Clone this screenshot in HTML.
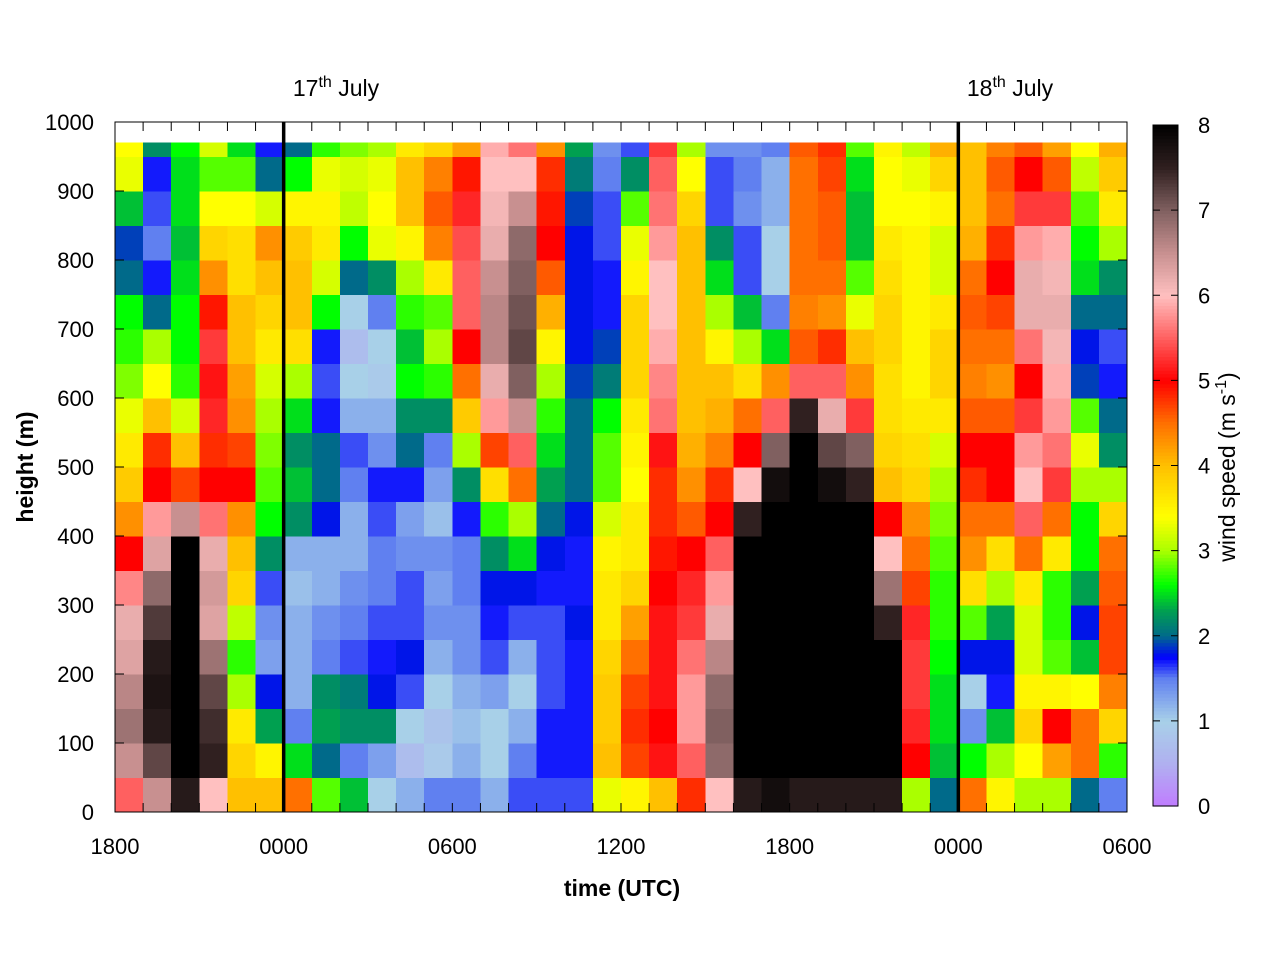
<!DOCTYPE html>
<html><head><meta charset="utf-8"><style>
body{margin:0;background:#fff;font-family:"Liberation Sans",sans-serif}
</style></head><body>
<svg id="chart" width="1280" height="960" xmlns="http://www.w3.org/2000/svg" font-family="Liberation Sans, sans-serif">
<rect width="1280" height="960" fill="#fff"/>
<g id="cells" shape-rendering="crispEdges"></g>
<g id="axes"></g>
</svg>
<script>
// hours since 1800 (start of each hourly column)
const hours = Array.from({length:36},(_,i)=>i);
// height bins bottom edges (m)
const heights = [0,50,100,150,200,250,300,350,400,450,500,550,600,650,700,750,800,850,900,950];
const dataTop = 970;
// wind speed per hourly column, bottom -> top
const speed = [
[5.5,6.5,6.8,6.6,6.3,6.2,5.7,5,4.3,3.9,3.6,3.3,2.9,2.7,2.6,2,1.9,2.4,3.3,3.4],
[6.5,7.2,7.6,7.7,7.6,7.3,6.9,6.3,5.8,5,4.8,4,3.4,3,2,1.7,1.5,1.6,1.7,2.2],
[7.6,8,8,8,8,8,8,8,6.5,4.7,4,3.2,2.7,2.6,2.6,2.5,2.4,2.5,2.5,2.6],
[6,7.5,7.4,7.2,6.8,6.3,6.4,6.2,5.6,5,4.8,5.2,5.1,5.3,4.9,4.3,3.8,3.4,2.8,3.2],
[4,3.8,3.6,3,2.7,3.1,3.8,4,4.3,5,4.7,4.3,4.2,4,4,3.7,3.7,3.4,2.8,2.5],
[4,3.5,2.3,1.8,1.3,1.4,1.6,2.2,2.6,2.8,2.9,3,3.2,3.6,3.8,4,4.3,3.2,2,1.7],
[4.5,2.5,1.5,1.2,1.2,1.2,1.1,1.2,2.2,2.4,2.2,2.5,3,3.7,4,4,3.9,3.5,2.6,2],
[2.8,2,2.3,2.2,1.5,1.4,1.2,1.2,1.8,2,2,1.7,1.6,1.7,2.6,3.2,3.6,3.5,3.3,2.7],
[2.4,1.5,2.2,2.1,1.6,1.5,1.4,1.2,1.2,1.5,1.6,1.2,1,0.7,1,2,2.6,3.1,3.2,2.9],
[1,1.3,2.2,1.8,1.7,1.6,1.5,1.5,1.6,1.7,1.4,1.2,0.9,1,1.5,2.2,3.3,3.4,3.3,3],
[1.2,0.7,1,1.6,1.8,1.6,1.6,1.4,1.3,1.7,2,2.2,2.6,2.4,2.7,3,3.5,4,4,3.6],
[1.5,0.9,0.8,1,1.2,1.4,1.3,1.4,1.1,1.3,1.5,2.2,2.7,3,2.8,3.6,4.4,4.6,4.4,3.8],
[1.5,1.2,1.1,1.2,1.4,1.4,1.5,1.5,1.7,2.2,3,3.9,4.5,5,5.5,5.5,5.4,5.2,4.9,4.2],
[1.2,1,1,1.3,1.6,1.7,1.8,2.2,2.7,3.7,4.7,5.8,6.2,6.6,6.6,6.5,6.2,6.1,6,5.9],
[1.6,1.5,1.2,1,1.2,1.6,1.8,2.5,3,4.5,5.5,6.5,7,7.2,7.1,7,6.9,6.5,6,5.6],
[1.6,1.7,1.7,1.6,1.6,1.6,1.7,1.8,2,2.3,2.5,2.7,3,3.5,4.1,4.6,5,4.9,4.8,4.3],
[1.6,1.7,1.7,1.7,1.7,1.8,1.7,1.7,1.8,2,2,2,1.9,1.8,1.8,1.8,1.8,1.9,2.1,2.3],
[3.3,4,3.9,3.9,3.8,3.6,3.6,3.5,3.2,2.8,2.8,2.6,2.1,1.9,1.7,1.7,1.6,1.6,1.5,1.4],
[3.5,4.7,4.8,4.7,4.5,4.2,3.8,3.6,3.6,3.4,3.5,3.6,3.8,3.8,3.8,3.5,3.3,2.8,2.2,1.6],
[4,5.1,5,5.1,5.1,5.1,5,4.9,4.8,4.8,5.1,5.6,5.7,5.9,6,6,5.8,5.6,5.5,5.3],
[4.8,5.5,5.8,5.8,5.6,5.3,5.2,5,4.6,4.3,4.1,4,4,4,4,4,4,3.8,3.4,3],
[6,6.9,7,6.9,6.6,6.2,5.8,5.5,5,4.8,4.4,4.1,4,3.5,3,2.5,2.2,1.6,1.6,1.4],
[7.6,8,8,8,8,8,8,8,7.5,6,5,4.5,3.7,3,2.4,1.6,1.6,1.4,1.5,1.4],
[7.8,8,8,8,8,8,8,8,8,7.8,7,5.5,4.3,2.5,1.5,1,1,1.2,1.2,1.5],
[7.6,8,8,8,8,8,8,8,8,8,8,7.5,5.5,4.6,4.4,4.5,4.5,4.5,4.5,4.6],
[7.6,8,8,8,8,8,8,8,8,7.8,7.2,6.2,5.5,4.8,4.3,4.5,4.6,4.6,4.7,4.8],
[7.6,8,8,8,8,8,8,8,8,7.5,7,5.3,4.3,4,3.3,2.8,2.4,2.4,2.5,2.8],
[7.6,8,8,8,8,7.5,6.8,6,5,4,3.8,3.7,3.7,3.8,3.8,3.7,3.6,3.4,3.4,3.5],
[3,5,5.2,5.3,5.3,5.2,4.7,4.5,4.3,3.8,3.7,3.6,3.5,3.5,3.5,3.5,3.5,3.4,3.3,3.1],
[2,2.4,2.5,2.5,2.6,2.7,2.7,2.8,2.9,3,3.2,3.6,3.8,3.8,3.6,3.2,3.2,3.5,3.8,4.1],
[4.5,2.6,1.4,1,1.8,2.8,3.7,4.3,4.5,4.8,5,4.6,4.4,4.5,4.6,4.5,4.1,4,4,4],
[3.5,3,2.4,1.7,1.8,2.3,3,3.7,4.5,5,5,4.6,4.3,4.5,4.7,5,4.8,4.5,4.6,4.4],
[3,3.4,3.8,3.5,3.2,3.2,3.6,4.5,5.5,6,5.8,5.3,5,5.6,6.2,6.2,5.8,5.3,5,4.6],
[3,4.2,5,3.5,2.8,2.7,2.7,3.6,4.5,5.3,5.6,5.8,5.9,6.1,6.2,6.1,5.9,5.3,4.6,4.2],
[2,4.5,4.5,3.4,2.4,1.8,2.3,2.6,2.6,3,3.3,2.8,1.9,1.8,2,2.5,2.6,2.8,3.1,3.4],
[1.5,2.7,3.8,4.4,4.7,4.7,4.6,4.5,3.8,3,2.2,2,1.7,1.6,2,2.2,3,3.6,3.9,4.1]
];
const xTickLabels = ["1800","0000","0600","1200","1800","0000","0600"];
const yTickLabels = [0,100,200,300,400,500,600,700,800,900,1000];
const cbTickLabels = [0,1,2,3,4,5,6,7,8];

const NS="http://www.w3.org/2000/svg";
const X0=115,X1=1127,Y0=812,Y1=122;
const xs=h=>X0+(X1-X0)*h/36;
const ys=m=>Y0-(Y0-Y1)*m/1000;
const stops=[[0,[192,124,255]],[0.5,[176,176,240]],[1,[168,208,232]],[1.5,[96,128,240]],[1.75,[0,0,255]],[2,[0,106,138]],[2.3,[0,160,80]],[2.6,[0,255,0]],[3,[170,255,0]],[3.4,[255,255,0]],[4,[255,192,0]],[4.5,[255,112,0]],[5,[255,0,0]],[5.5,[255,96,96]],[6,[255,192,192]],[6.5,[200,144,144]],[7,[128,96,96]],[7.5,[48,32,32]],[8,[0,0,0]]];
function color(v){v=Math.max(0,Math.min(8,v));for(let i=1;i<stops.length;i++){if(v<=stops[i][0]){const a=stops[i-1],b=stops[i],t=(v-a[0])/(b[0]-a[0]);const c=a[1].map((x,k)=>Math.round(x+(b[1][k]-x)*t));return`rgb(${c})`;}}return"#000";}
function el(tag,attrs,parent){const e=document.createElementNS(NS,tag);for(const k in attrs)e.setAttribute(k,attrs[k]);(parent||svg).appendChild(e);return e;}
const svg=document.getElementById("chart");
const cells=document.getElementById("cells");
speed.forEach((col,i)=>{col.forEach((v,j)=>{
  const top=j+1<heights.length?heights[j+1]:dataTop;
  const r=el("rect",{x:xs(hours[i]),y:ys(top),width:xs(hours[i]+1)-xs(hours[i])+0.5,height:ys(heights[j])-ys(top)+0.5,fill:color(v)},cells);
  
  
});});
const ax=document.getElementById("axes");
const frame=el("rect",{x:X0,y:Y1,width:X1-X0,height:Y0-Y1,fill:"none",stroke:"#000","stroke-width":1},ax);


for(let h=0;h<=36;h++){el("line",{x1:xs(h),x2:xs(h),y1:Y0,y2:Y0-9,stroke:"#000"},ax);el("line",{x1:xs(h),x2:xs(h),y1:Y1,y2:Y1+9,stroke:"#000"},ax);}
xTickLabels.forEach((t,i)=>{const e=el("text",{x:xs(i*6),y:854,"text-anchor":"middle","font-size":22},ax);e.textContent=t;

});
yTickLabels.forEach(m=>{el("line",{x1:X0,x2:X0+9,y1:ys(m),y2:ys(m),stroke:"#000"},ax);el("line",{x1:X1,x2:X1-9,y1:ys(m),y2:ys(m),stroke:"#000"},ax);
const e=el("text",{x:94,y:ys(m)+8,"text-anchor":"end","font-size":22},ax);e.textContent=m;

});
[6,30].forEach(h=>{const l=el("line",{x1:xs(h),x2:xs(h),y1:Y1,y2:Y0,stroke:"#000","stroke-width":3.5},ax);

});
// colorbar
const CB0=806,CB1=125;
for(let k=0;k<200;k++){const v=8*k/200;el("rect",{x:1153,y:CB0-(CB0-CB1)*(k+1)/200,width:25,height:(CB0-CB1)/200+0.6,fill:color(v+0.02)},ax);}
const cbf=el("rect",{x:1153,y:CB1,width:25,height:CB0-CB1,fill:"none",stroke:"#000"},ax);


cbTickLabels.forEach(v=>{const y=CB0-(CB0-CB1)*v/8;el("line",{x1:1153,x2:1160,y1:y,y2:y,stroke:"#000"},ax);el("line",{x1:1178,x2:1171,y1:y,y2:y,stroke:"#000"},ax);
const e=el("text",{x:1198,y:y+8,"font-size":22},ax);e.textContent=v;

});
</script>
<svg style="position:absolute;left:0;top:0" width="1280" height="960" xmlns="http://www.w3.org/2000/svg" font-family="Liberation Sans, sans-serif">
<text x="622" y="896" text-anchor="middle" font-size="23" font-weight="bold">time (UTC)</text>
<text transform="translate(33,467) rotate(-90)" text-anchor="middle" font-size="23" font-weight="bold">height (m)</text>
<text transform="translate(1235,467) rotate(-90)" text-anchor="middle" font-size="23">wind speed (m s<tspan dy="-9" font-size="16">-1</tspan><tspan dy="9">)</tspan></text>
<text x="336" y="96" text-anchor="middle" font-size="23">17<tspan dy="-9" font-size="16">th</tspan><tspan dy="9"> July</tspan></text>
<text x="1010" y="96" text-anchor="middle" font-size="23">18<tspan dy="-9" font-size="16">th</tspan><tspan dy="9"> July</tspan></text>
</svg>
</body></html>
